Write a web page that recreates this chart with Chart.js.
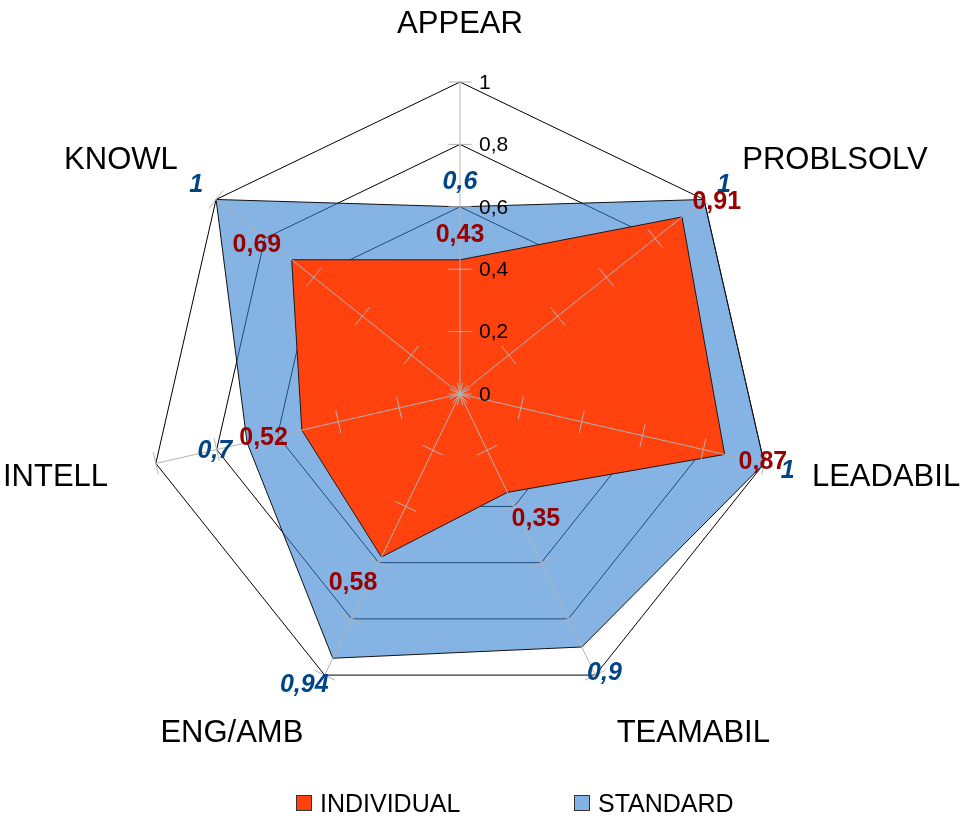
<!DOCTYPE html>
<html>
<head>
<meta charset="utf-8">
<script src="https://cdn.jsdelivr.net/npm/chart.js@4/dist/chart.umd.min.js"></script>
<style>
  html, body { margin: 0; padding: 0; background: #ffffff; }
  #wrap { width: 961px; height: 818px; }
</style>
</head>
<body>
<div id="wrap"><canvas id="c" width="961" height="818"></canvas></div>
<script>
// ---- data ----
const categories = ['APPEAR', 'PROBLSOLV', 'LEADABIL', 'TEAMABIL', 'ENG/AMB', 'INTELL', 'KNOWL'];
const individual = [0.43, 0.91, 0.87, 0.35, 0.58, 0.52, 0.69];
const standard = [0.6, 1, 1, 0.9, 0.94, 0.7, 1];
const tickValues = [0, 0.2, 0.4, 0.6, 0.8, 1];
const tickLabels = ['0', '0,2', '0,4', '0,6', '0,8', '1'];
const seriesNames = ['INDIVIDUAL', 'STANDARD'];

// ---- styles ----
const FONT = "'Liberation Sans', Arial, sans-serif";
const orange = '#ff420e';
const blueFill = 'rgba(47,125,207,0.59)';
const blueSwatch = '#83b2e4';
const labelColors = ['#990000', '#004586'];

function fmt(v) { return String(v).replace('.', ','); }

const overlay = {
  id: 'overlay',
  afterDatasetsDraw(chart) {
    const ctx = chart.ctx;
    const s = chart.scales.r;
    const R = s.drawingArea;
    const n = categories.length;
    ctx.save();
    // axis lines with tick marks
    ctx.strokeStyle = '#b3b3b3';
    ctx.lineWidth = 1;
    for (let i = 0; i < n; i++) {
      const ang = s.getIndexAngle(i) - Math.PI / 2;
      const ux = Math.cos(ang), uy = Math.sin(ang);
      const end = s.getPointPositionForValue(i, tickValues[tickValues.length - 1]);
      ctx.beginPath();
      ctx.moveTo(s.xCenter, s.yCenter);
      ctx.lineTo(end.x, end.y);
      ctx.stroke();
      tickValues.forEach(v => {
        const q = s.getPointPositionForValue(i, v);
        ctx.beginPath();
        ctx.moveTo(q.x - uy * 11.5, q.y + ux * 11.5);
        ctx.lineTo(q.x + uy * 11.5, q.y - ux * 11.5);
        ctx.stroke();
      });
    }
    // tick labels along first axis
    ctx.fillStyle = '#000';
    ctx.font = '21px ' + FONT;
    ctx.textAlign = 'left';
    ctx.textBaseline = 'middle';
    tickValues.forEach((v, k) => {
      const q = s.getPointPositionForValue(0, v);
      ctx.fillText(tickLabels[k], q.x + 19, q.y + 1);
    });
    // point labels (category names)
    ctx.font = '31px ' + FONT;
    ctx.textBaseline = 'alphabetic';
    const cap = 22.5;
    for (let i = 0; i < n; i++) {
      const ang = s.getIndexAngle(i) - Math.PI / 2;
      const ux = Math.cos(ang), uy = Math.sin(ang);
      const a = s.getPointPosition(i, R + 49);
      ctx.textAlign = Math.abs(ux) < 0.1 ? 'center' : (ux > 0 ? 'left' : 'right');
      let y;
      if (uy < -0.5) y = a.y;
      else if (uy > 0.5) y = a.y + cap;
      else y = a.y + cap / 2;
      ctx.fillText(categories[i], a.x, y);
    }
    // data labels: standard first, individual on top
    ctx.textAlign = 'center';
    const sets = [
      { data: standard, color: labelColors[1], font: 'italic bold 25px ' + FONT },
      { data: individual, color: labelColors[0], font: 'bold 25px ' + FONT }
    ];
    const g = 18, hh = 9;
    sets.forEach(st => {
      ctx.font = st.font;
      ctx.fillStyle = st.color;
      st.data.forEach((v, i) => {
        const ang = s.getIndexAngle(i) - Math.PI / 2;
        const ux = Math.cos(ang), uy = Math.sin(ang);
        const p = s.getPointPositionForValue(i, v);
        const txt = fmt(v);
        const w = ctx.measureText(txt).width;
        const hx = Math.abs(ux) < 0.1 ? 0 : Math.sign(ux) * w / 2 * 0.85;
        const cx = p.x + ux * g + hx;
        const cy = p.y + uy * (g + hh);
        ctx.fillText(txt, cx, cy + hh);
      });
    });
    ctx.restore();
  },
  afterDraw(chart) {
    const ctx = chart.ctx;
    ctx.save();
    ctx.font = '25px ' + FONT;
    ctx.textBaseline = 'alphabetic';
    ctx.textAlign = 'left';
    const items = [
      { x: 296, fill: orange, text: seriesNames[0] },
      { x: 574, fill: blueSwatch, text: seriesNames[1] }
    ];
    items.forEach(it => {
      ctx.fillStyle = it.fill;
      ctx.fillRect(it.x + 0.5, 795.5, 15, 15);
      ctx.strokeStyle = '#333';
      ctx.lineWidth = 1;
      ctx.strokeRect(it.x + 0.5, 795.5, 15, 15);
      ctx.fillStyle = '#000';
      ctx.fillText(it.text, it.x + 24, 812);
    });
    ctx.restore();
  }
};

new Chart(document.getElementById('c'), {
  type: 'radar',
  data: {
    labels: categories,
    datasets: [
      {
        label: seriesNames[0],
        data: individual,
        backgroundColor: orange,
        borderColor: '#1a1a1a',
        borderWidth: 1,
        fill: true,
        pointRadius: 0,
        pointHoverRadius: 0,
        tension: 0
      },
      {
        label: seriesNames[1],
        data: standard,
        backgroundColor: blueFill,
        borderColor: '#111',
        borderWidth: 1,
        fill: true,
        pointRadius: 0,
        pointHoverRadius: 0,
        tension: 0
      }
    ]
  },
  options: {
    responsive: false,
    animation: false,
    devicePixelRatio: 1,
    layout: { padding: { left: 148, top: 82, right: 189, bottom: 112 } },
    plugins: {
      legend: { display: false },
      tooltip: { enabled: false }
    },
    scales: {
      r: {
        min: 0,
        max: 1,
        startAngle: 0,
        ticks: { display: false, stepSize: 0.2 },
        grid: { color: '#000', lineWidth: 1 },
        angleLines: { display: false },
        pointLabels: { display: false }
      }
    }
  },
  plugins: [overlay]
});
</script>
</body>
</html>
